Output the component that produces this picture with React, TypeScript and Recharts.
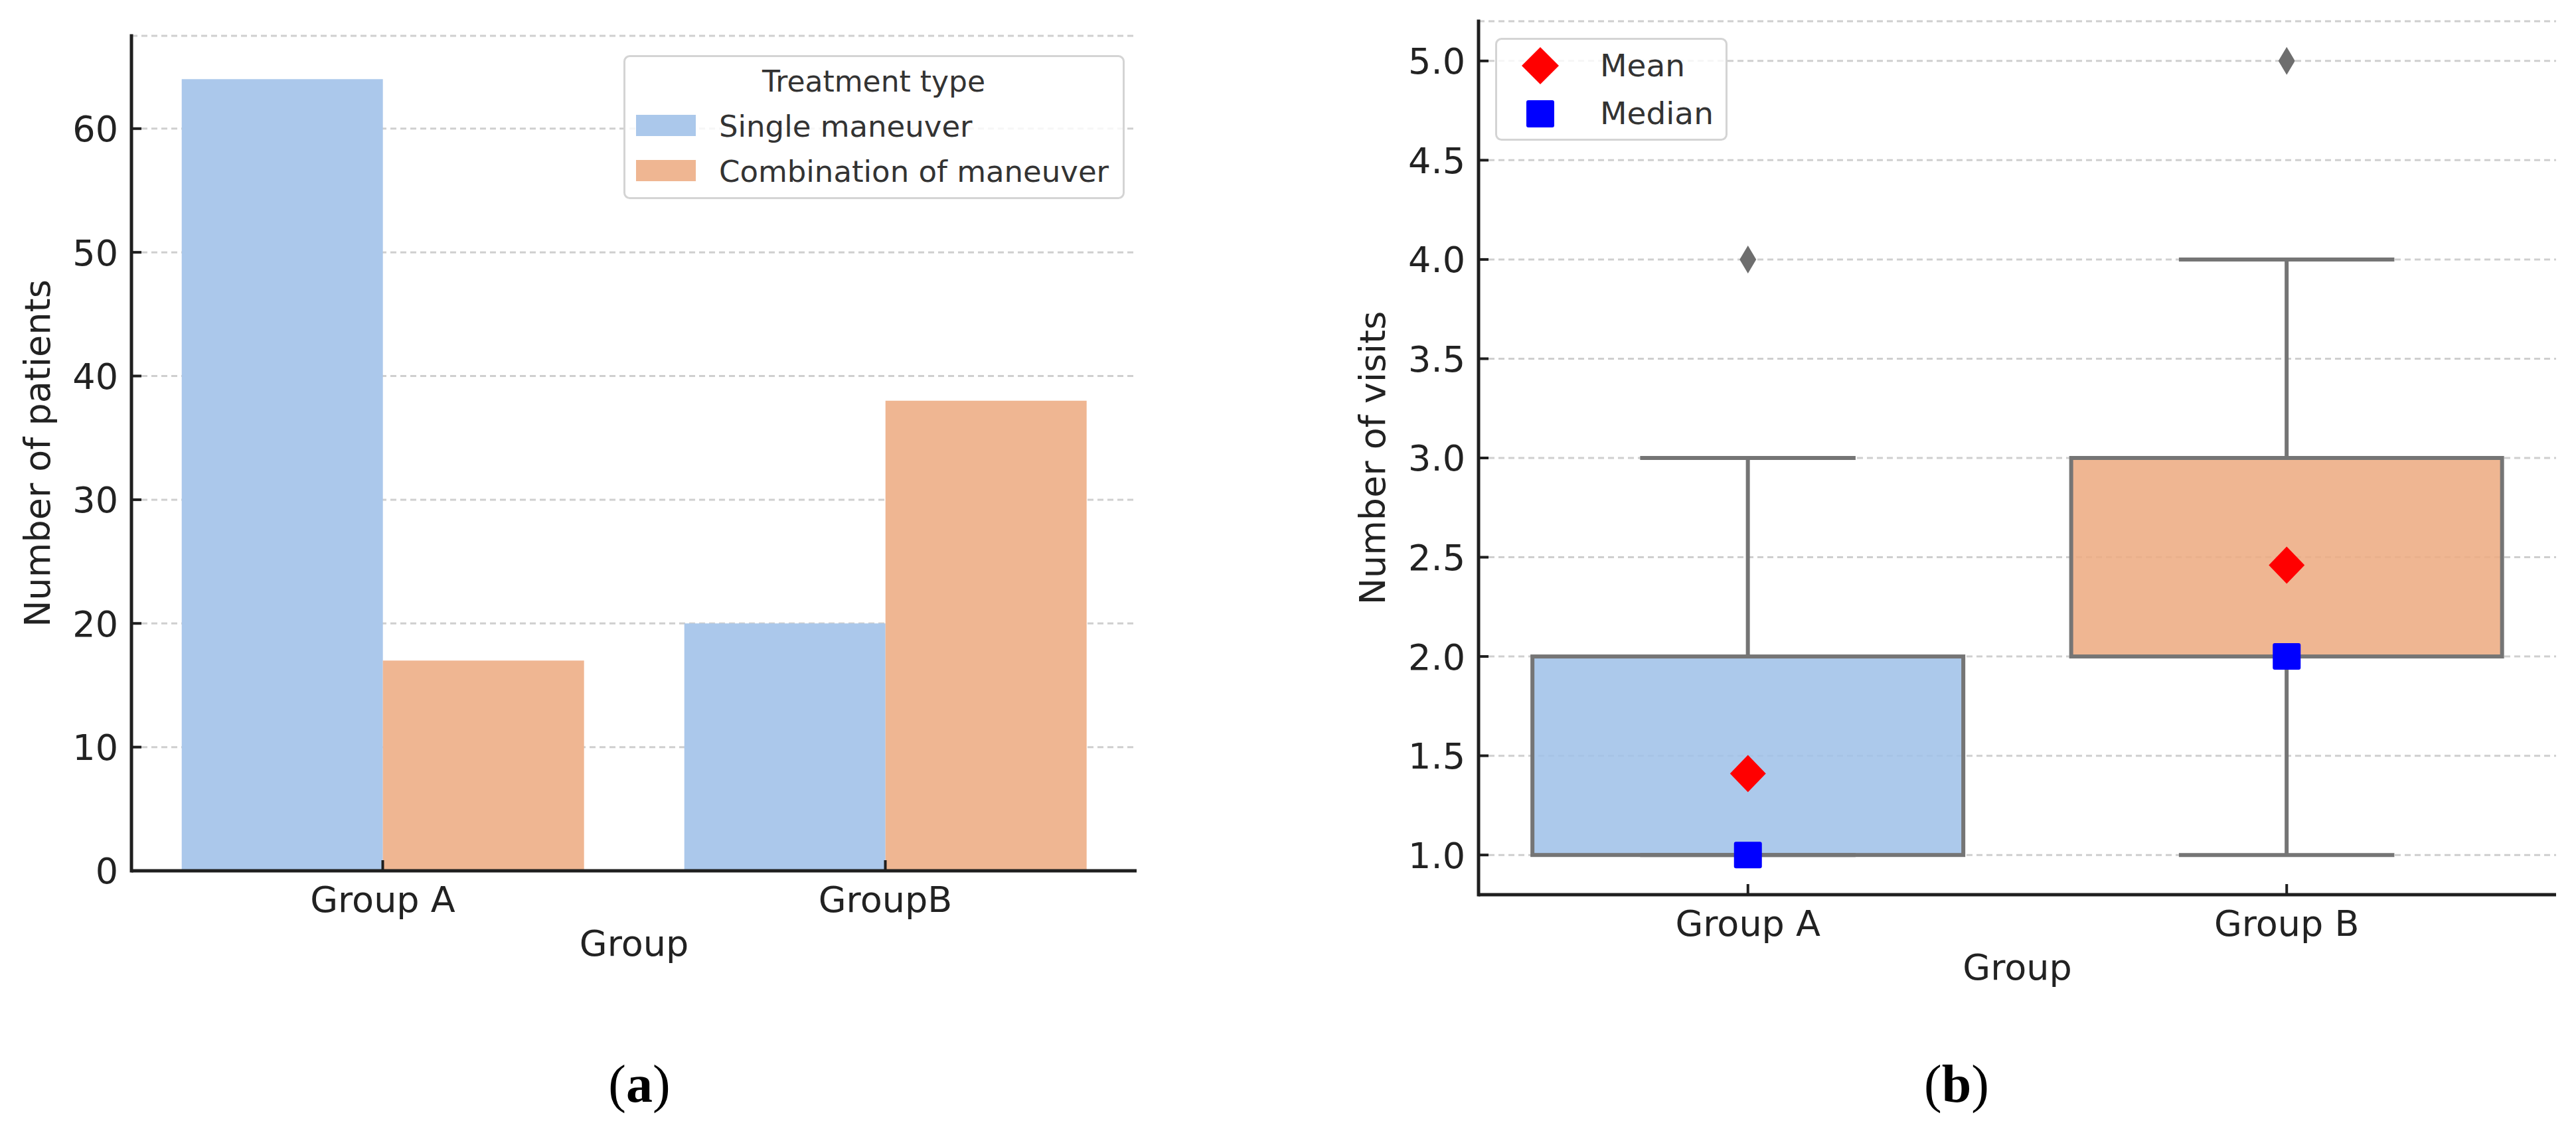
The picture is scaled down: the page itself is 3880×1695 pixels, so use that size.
import React from 'react';
import { BarChart, Bar, ComposedChart, Scatter, XAxis, YAxis, CartesianGrid, Legend } from 'recharts';

const FONT = '"DejaVu Sans", "Liberation Sans", sans-serif';
const SERIF = '"Liberation Serif", "DejaVu Serif", serif';
const TEXT = '#222222';
const LEGEND_TEXT = '#333333';
const AXIS = '#1f1f1f';
const GRID = '#cfcfcf';
const BLUE = '#abc8eb';
const ORANGE = '#efb692';
const BOX_BLUE = '#a0c1e8';
const BOX_ORANGE = '#edac83';
const BOX_LINE = '#757575';
const OUTLIER = '#6e6e6e';
const MEAN_COLOR = '#ff0000';
const MEDIAN_COLOR = '#0000ff';

// ---------- Panel (a): bar chart ----------
const barGroups = ['Group A', 'GroupB'];
const singleManeuver = [64, 20];
const combinationManeuver = [17, 38];
const barTicks = [0, 10, 20, 30, 40, 50, 60];
const barSeriesNames = ['Single maneuver', 'Combination of maneuver'];
const barLegendTitle = 'Treatment type';

// ---------- Panel (b): box plot ----------
const boxGroups = ['Group A', 'Group B'];
const whiskerLow = [1, 1];
const quartile1 = [1, 2];
const medians = [1, 2];
const quartile3 = [2, 3];
const whiskerHigh = [3, 4];
const means = [1.41, 2.46];
const outliers = [4, 5];
const boxTicks = [1, 1.5, 2, 2.5, 3, 3.5, 4, 4.5, 5];
const boxLegendNames = ['Mean', 'Median'];

const barData = barGroups.map((g, i) => ({
  group: g,
  single: singleManeuver[i],
  combination: combinationManeuver[i],
}));

const boxData = boxGroups.map((g, i) => ({
  group: g,
  wLow: whiskerLow[i],
  q1: quartile1[i],
  median: medians[i],
  q3: quartile3[i],
  wHigh: whiskerHigh[i],
  mean: means[i],
  outlier: outliers[i],
}));
const boxColors = [BOX_BLUE, BOX_ORANGE];

const makeYTick = (fmt: (v: number) => string) => (props: any) => {
  const { x, y, payload } = props;
  return (
    <g>
      <line x1={x} x2={x + 15} y1={y} y2={y} stroke={AXIS} strokeWidth={4} />
      <text x={x - 20} y={y} dy="0.36em" textAnchor="end" fontFamily={FONT} fontSize={54} fill={TEXT}>
        {fmt(payload.value)}
      </text>
    </g>
  );
};

const XTick = (props: any) => {
  const { x, y, payload } = props;
  return (
    <g>
      <line x1={x} x2={x} y1={y} y2={y - 16} stroke={AXIS} strokeWidth={4} />
      <text x={x} y={y + 62} textAnchor="middle" fontFamily={FONT} fontSize={54} fill={TEXT}>
        {payload.value}
      </text>
    </g>
  );
};

const makeYLabel = (text: string, offsetX: number) => (props: any) => {
  const vb = props.viewBox || { x: 0, y: 0, width: 0, height: 0 };
  const cx = vb.x + offsetX;
  const cy = vb.y + vb.height / 2;
  return (
    <text x={cx} y={cy} transform={`rotate(-90 ${cx} ${cy})`} textAnchor="middle" fontFamily={FONT} fontSize={54} fill={TEXT}>
      {text}
    </text>
  );
};

const makeXLabel = (text: string, offsetY: number) => (props: any) => {
  const vb = props.viewBox || { x: 0, y: 0, width: 0, height: 0 };
  const cx = vb.x + vb.width / 2;
  return (
    <text x={cx} y={vb.y + offsetY} textAnchor="middle" fontFamily={FONT} fontSize={54} fill={TEXT}>
      {text}
    </text>
  );
};

const BarLegend = () => (
  <svg width={755} height={217} style={{ display: 'block' }}>
    <rect x={1.5} y={1.5} width={752} height={214} rx={8} ry={8} fill="rgba(255,255,255,0.8)" stroke="#d4d4d4" strokeWidth={3} />
    <text x={377} y={55} textAnchor="middle" fontFamily={FONT} fontSize={44} fill={LEGEND_TEXT}>
      {barLegendTitle}
    </text>
    <rect x={19} y={90} width={90} height={32} fill={BLUE} />
    <text x={144} y={123} fontFamily={FONT} fontSize={45} fill={LEGEND_TEXT}>
      {barSeriesNames[0]}
    </text>
    <rect x={19} y={158} width={90} height={32} fill={ORANGE} />
    <text x={144} y={191} fontFamily={FONT} fontSize={45} fill={LEGEND_TEXT}>
      {barSeriesNames[1]}
    </text>
  </svg>
);

const diamondPoints = (cx: number, cy: number, w: number, h: number) =>
  `${cx},${cy - h / 2} ${cx + w / 2},${cy} ${cx},${cy + h / 2} ${cx - w / 2},${cy}`;

const BoxLegend = () => (
  <svg width={350} height={155} style={{ display: 'block' }}>
    <rect x={1.5} y={1.5} width={347} height={152} rx={8} ry={8} fill="rgba(255,255,255,0.8)" stroke="#d4d4d4" strokeWidth={3} />
    <polygon points={diamondPoints(68, 42, 56, 56)} fill={MEAN_COLOR} />
    <text x={158} y={58} fontFamily={FONT} fontSize={47} fill={LEGEND_TEXT}>
      {boxLegendNames[0]}
    </text>
    <rect x={47} y={94} width={42} height={41} rx={3} fill={MEDIAN_COLOR} />
    <text x={158} y={130} fontFamily={FONT} fontSize={47} fill={LEGEND_TEXT}>
      {boxLegendNames[1]}
    </text>
  </svg>
);

const LINE_W = 6;

// upper whisker: cap at top (y)
const UpperWhiskerShape = (props: any) => {
  const { x, y, width, height } = props;
  if (x == null || y == null) return null;
  const cx = x + width / 2;
  return (
    <g>
      <line x1={cx} x2={cx} y1={y} y2={y + height} stroke={BOX_LINE} strokeWidth={LINE_W} />
      <line x1={x + width / 4} x2={x + (3 * width) / 4} y1={y} y2={y} stroke={BOX_LINE} strokeWidth={LINE_W} />
    </g>
  );
};

// lower whisker: cap at bottom (y + height)
const LowerWhiskerShape = (props: any) => {
  const { x, y, width, height } = props;
  if (x == null || y == null) return null;
  const cx = x + width / 2;
  return (
    <g>
      <line x1={cx} x2={cx} y1={y} y2={y + height} stroke={BOX_LINE} strokeWidth={LINE_W} />
      <line x1={x + width / 4} x2={x + (3 * width) / 4} y1={y + height} y2={y + height} stroke={BOX_LINE} strokeWidth={LINE_W} />
    </g>
  );
};

const BoxFillShape = (props: any) => {
  const { x, y, width, height, index } = props;
  if (x == null || y == null) return null;
  return <rect x={x} y={y} width={width} height={height} fill={boxColors[index % boxColors.length]} fillOpacity={0.88} />;
};

const BoxOutlineShape = (props: any) => {
  const { x, y, width, height } = props;
  if (x == null || y == null) return null;
  return <rect x={x} y={y} width={width} height={height} fill="none" stroke={BOX_LINE} strokeWidth={LINE_W} />;
};

const MeanShape = (props: any) => {
  const { cx, cy } = props;
  if (cx == null || cy == null) return null;
  return <polygon points={diamondPoints(cx, cy, 54, 56)} fill={MEAN_COLOR} />;
};

const MedianShape = (props: any) => {
  const { cx, cy } = props;
  if (cx == null || cy == null) return null;
  return <rect x={cx - 21} y={cy - 20} width={42} height={40} rx={3} fill={MEDIAN_COLOR} />;
};

const OutlierShape = (props: any) => {
  const { cx, cy } = props;
  if (cx == null || cy == null) return null;
  return <polygon points={diamondPoints(cx, cy, 25, 42)} fill={OUTLIER} />;
};

export default function App() {
  return (
    <div style={{ position: 'absolute', left: 0, top: 0, width: 3880, height: 1695, background: '#ffffff', overflow: 'hidden' }}>
      <div style={{ position: 'absolute', left: 0, top: 0 }}>
        <BarChart
          width={1940}
          height={1695}
          data={barData}
          margin={{ top: 54, right: 228, bottom: 233, left: 0 }}
          barCategoryGap="10%"
          barGap={0}
        >
          <CartesianGrid horizontal vertical={false} stroke={GRID} strokeWidth={3} strokeDasharray="9 6" />
          <XAxis
            dataKey="group"
            height={150}
            tickSize={0}
            tickMargin={0}
            tick={XTick}
            tickLine={false}
            axisLine={{ stroke: AXIS, strokeWidth: 5 }}
            label={makeXLabel('Group', 128)}
          />
          <YAxis
            type="number"
            width={198}
            domain={[0, 67.5]}
            ticks={barTicks}
            tickSize={0}
            tickMargin={0}
            tick={makeYTick((v) => String(v))}
            tickLine={false}
            axisLine={{ stroke: AXIS, strokeWidth: 5, strokeLinecap: 'square' }}
            label={makeYLabel('Number of patients', 75)}
          />
          <Legend
            layout="horizontal"
            verticalAlign="middle"
            align="center"
            content={() => <BarLegend />}
            wrapperStyle={{ left: 939, top: 83, width: 755, height: 217 }}
          />
          <Bar dataKey="single" name={barSeriesNames[0]} fill={BLUE} isAnimationActive={false} />
          <Bar dataKey="combination" name={barSeriesNames[1]} fill={ORANGE} isAnimationActive={false} />
        </BarChart>
      </div>

      <div style={{ position: 'absolute', left: 1940, top: 0 }}>
        <ComposedChart
          width={1940}
          height={1695}
          data={boxData}
          margin={{ top: 32, right: 30, bottom: 197, left: 0 }}
          barCategoryGap="10%"
          barGap={0}
        >
          <CartesianGrid horizontal vertical={false} stroke={GRID} strokeWidth={3} strokeDasharray="9 6" />
          <XAxis
            dataKey="group"
            height={150}
            tickSize={0}
            tickMargin={0}
            tick={XTick}
            tickLine={false}
            axisLine={{ stroke: AXIS, strokeWidth: 5 }}
            label={makeXLabel('Group', 128)}
          />
          <XAxis xAxisId="fill" dataKey="group" hide />
          <XAxis xAxisId="lo" dataKey="group" hide />
          <XAxis xAxisId="hi" dataKey="group" hide />
          <XAxis xAxisId="outline" dataKey="group" hide />
          <YAxis
            type="number"
            width={287}
            domain={[0.8, 5.2]}
            ticks={boxTicks}
            tickSize={0}
            tickMargin={0}
            tick={makeYTick((v) => v.toFixed(1))}
            tickLine={false}
            axisLine={{ stroke: AXIS, strokeWidth: 5, strokeLinecap: 'square' }}
            label={makeYLabel('Number of visits', 146)}
            allowDataOverflow
          />
          <Legend
            layout="horizontal"
            verticalAlign="middle"
            align="center"
            content={() => <BoxLegend />}
            wrapperStyle={{ left: 312, top: 57, width: 350, height: 155 }}
          />
          <Bar
            xAxisId="fill"
            dataKey={(d: any) => [d.q1, d.q3]}
            shape={BoxFillShape}
            isAnimationActive={false}
            legendType="none"
          />
          <Scatter dataKey="median" shape={MedianShape} isAnimationActive={false} legendType="none" />
          <Bar
            xAxisId="lo"
            dataKey={(d: any) => [d.wLow, d.q1]}
            shape={LowerWhiskerShape}
            isAnimationActive={false}
            legendType="none"
          />
          <Bar
            xAxisId="hi"
            dataKey={(d: any) => [d.q3, d.wHigh]}
            shape={UpperWhiskerShape}
            isAnimationActive={false}
            legendType="none"
          />
          <Bar
            xAxisId="outline"
            dataKey={(d: any) => [d.q1, d.q3]}
            shape={BoxOutlineShape}
            isAnimationActive={false}
            legendType="none"
          />
          <Scatter dataKey="mean" shape={MeanShape} isAnimationActive={false} legendType="none" />
          <Scatter dataKey="outlier" shape={OutlierShape} isAnimationActive={false} legendType="none" />
        </ComposedChart>
      </div>

      <svg width={3880} height={1695} style={{ position: 'absolute', left: 0, top: 0, pointerEvents: 'none' }}>
        <text x={963} y={1660} textAnchor="middle" fontFamily={SERIF} fontSize={80} fill="#000">
          (<tspan fontWeight="bold">a</tspan>)
        </text>
        <text x={2947} y={1660} textAnchor="middle" fontFamily={SERIF} fontSize={80} fill="#000">
          (<tspan fontWeight="bold">b</tspan>)
        </text>
      </svg>
    </div>
  );
}
